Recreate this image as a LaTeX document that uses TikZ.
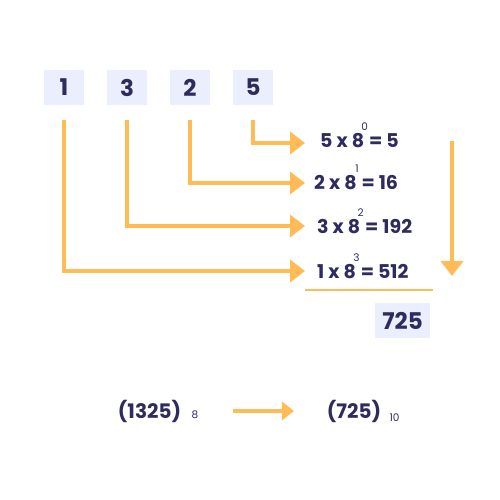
\documentclass[tikz,border=0pt]{standalone}
\usepackage{fontspec}
\setmainfont{Poppins}
\usetikzlibrary{arrows.meta}
\definecolor{ink}{HTML}{2E2B5F}
\definecolor{boxfill}{HTML}{EBEEFD}
\definecolor{amber}{HTML}{FFBB55}
\tikzset{
  digitbox/.style={fill=boxfill, minimum width=40pt, minimum height=35pt, inner sep=0pt,
    text=ink, font=\fontsize{23}{23}\selectfont\bfseries},
  rowtext/.style={anchor=base west, inner sep=0pt, text=ink, font=\fontsize{19}{19}\selectfont\bfseries},
  arr/.style={draw=amber, line width=4pt, -{Triangle[length=15pt,width=22pt]}},
  smallarr/.style={draw=amber, line width=4pt, -{Triangle[length=12pt,width=18pt]}},
  bottomtext/.style={inner sep=0pt, text=ink, font=\fontsize{20}{20}\selectfont\bfseries},
  subtext/.style={inner sep=0pt, text=ink, font=\fontsize{10.5}{10.5}\selectfont},
}
\newcommand{\expo}[1]{\makebox[0pt]{\kern1pt\raisebox{17pt}{\fontsize{10.5}{10.5}\selectfont\mdseries #1}}}
\begin{document}
\begin{tikzpicture}[x=1pt,y=-1pt]
\useasboundingbox (0,0) rectangle (500,500);
\node[digitbox] (b1) at (64,87.5) {1};
\node[digitbox] (b3) at (127,87.5) {3};
\node[digitbox] (b2) at (190,87.5) {2};
\node[digitbox] (b5) at (253,87.5) {5};
\coordinate (t0) at (305,143);
\coordinate (t1) at (305,183);
\coordinate (t2) at (305,226);
\coordinate (t3) at (305,271);
\node[rowtext] (r0) at (320,147) {5 x 8\expo{0}\kern5pt= 5};
\node[rowtext] (r1) at (314,189) {2 x 8\expo{1}\kern5pt= 16};
\node[rowtext] (r2) at (317,233) {3 x 8\expo{2}\kern5pt= 192};
\node[rowtext] (r3) at (317,278) {1 x 8\expo{3}\kern5pt= 512};
\draw[arr, shorten <=15pt] (b5.south) |- (t0);
\draw[arr, shorten <=15pt] (b2.south) |- (t1);
\draw[arr, shorten <=15pt] (b3.south) |- (t2);
\draw[arr, shorten <=15pt] (b1.south) |- (t3);
\coordinate (vs) at (452,141);
\coordinate (ve) at (452,276);
\draw[arr] (vs) -- (ve);
\coordinate (ls) at (305,290);
\coordinate (le) at (433,290);
\draw[amber, line width=1.3pt] (ls) -- (le);
\node[digitbox, minimum width=55pt, minimum height=35pt] (res) at (402.5,320.5) {725};
\node[bottomtext] (oct) at (149.5,411) {(1325)};
\node[subtext] (oct8) at (195,415) {8};
\node[bottomtext] (dec) at (354,411) {(725)};
\node[subtext] (dec10) at (394.5,418) {10};
\coordinate (as) at (233,411);
\coordinate (ae) at (294,411);
\draw[smallarr] (as) -- (ae);
\end{tikzpicture}
\end{document}
